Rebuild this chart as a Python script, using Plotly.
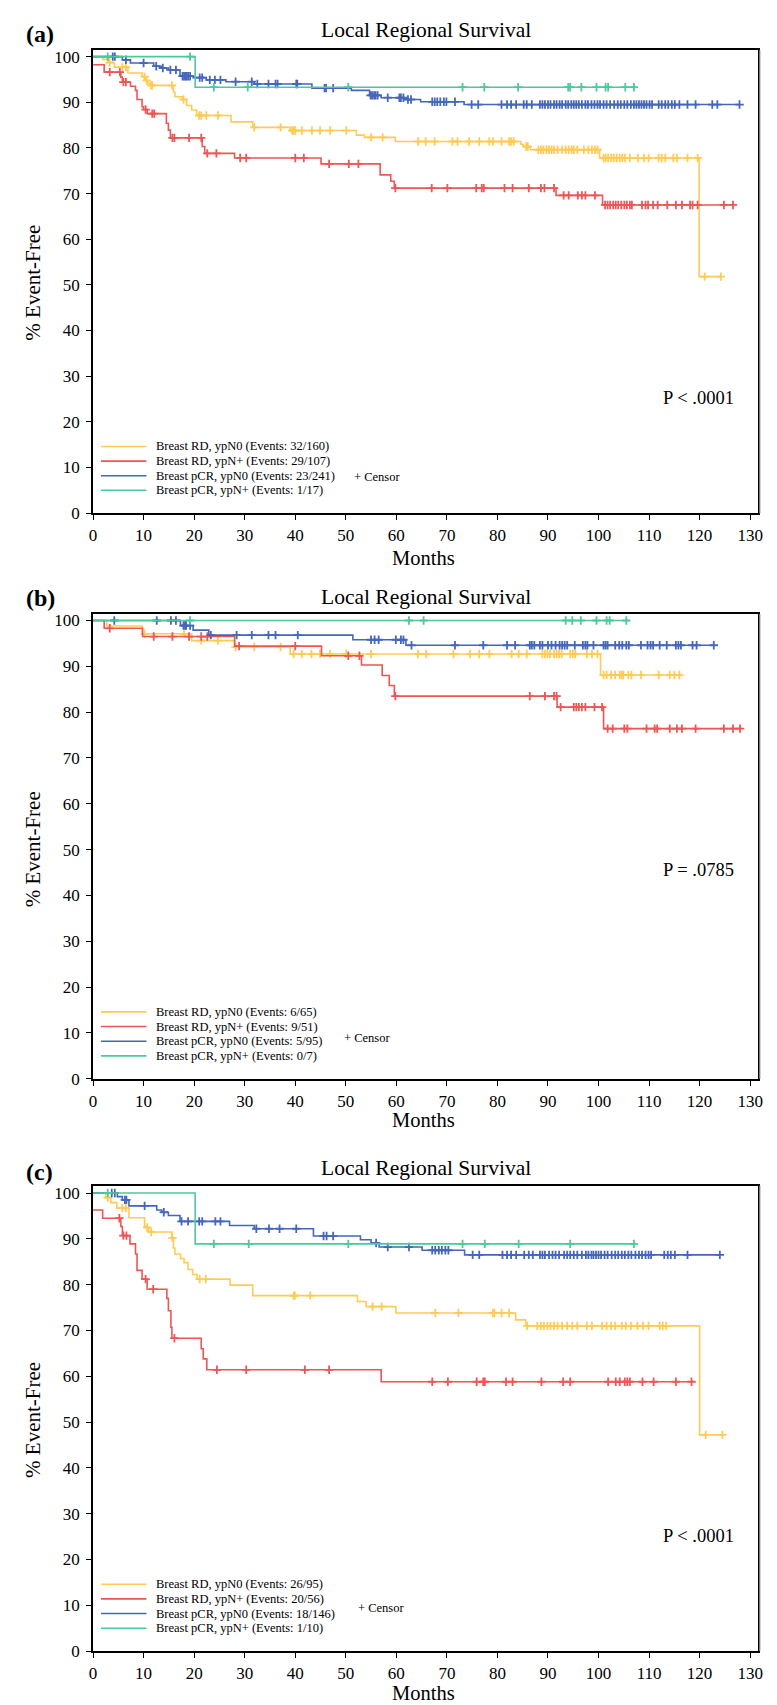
import plotly.graph_objects as go

FONT = "Liberation Serif"
YELLOW = "#FFCB55"
RED = "#EE5555"
BLUE = "#4466BB"
GREEN = "#4CC99A"
COLORS = [YELLOW, RED, BLUE, GREEN]

# ---------------- Panel (a) ----------------
a_rd_n0_start = 100.0
a_rd_n0_t = [1.9, 3.0, 4.2, 6.9, 9.7, 10.4, 10.8, 11.2, 15.9, 16.2, 17.7, 18.5, 19.5, 20.5, 27.3, 31.6, 39.0,
             52.1, 53.7, 59.8, 84.6, 85.1, 86.5, 100.2, 119.9]
a_rd_n0_s = [99.4, 98.7, 97.7, 96.4, 95.6, 94.8, 94.2, 93.7, 92.2, 91.2, 90.6, 89.3, 88.3, 87.1, 85.7, 84.5, 83.8,
             82.8, 82.3, 81.4, 80.8, 80.3, 79.6, 77.8, 51.8]
a_rd_n0_c = [3.3, 5.8, 6.5, 10.2, 10.6, 11.5, 11.7, 15.6, 17.9, 21.0, 21.4, 22.4, 24.7, 31.9, 37.1, 39.4, 39.7, 40.0,
             41.3, 43.3, 44.9, 46.9, 50.1, 55.0, 57.3, 64.3, 65.8, 67.6, 71.1, 72.1, 74.4, 76.4, 78.4, 79.1, 80.8,
             82.3, 82.7, 83.2, 85.7, 86.0, 88.1, 88.6, 89.1, 89.7, 90.2, 90.7, 91.2, 91.9, 92.8, 93.5, 94.1, 94.7,
             95.1, 95.8, 97.1, 98.0, 98.7, 99.3, 99.8, 101.0, 101.4, 101.9, 102.5, 103.0, 103.6, 104.2, 104.7, 105.2,
             106.2, 107.8, 109.0, 109.9, 111.9, 112.5, 113.2, 114.8, 115.5, 117.6, 119.6, 121.0, 124.2]
a_rd_n0_end = 124.4

a_rd_np_start = 98.2
a_rd_np_t = [2.2, 5.5, 5.8, 7.4, 8.4, 8.7, 9.7, 10.0, 10.7, 14.5, 14.9, 15.3, 21.6, 22.1, 28.0, 45.1, 56.8, 58.9,
             59.6, 91.6, 100.8]
a_rd_np_s = [96.6, 95.5, 94.4, 93.5, 92.6, 90.6, 89.0, 88.4, 87.5, 85.4, 83.9, 82.2, 80.3, 78.8, 77.8, 76.5, 74.1,
             72.7, 71.2, 69.6, 67.5]
a_rd_np_c = [3.3, 5.3, 6.0, 6.5, 10.4, 11.7, 12.1, 15.7, 16.1, 19.0, 21.4, 22.6, 24.4, 29.1, 30.3, 40.0, 41.7, 46.7,
             50.6, 52.5, 59.8, 67.0, 70.1, 75.8, 76.9, 77.3, 81.4, 83.0, 86.2, 88.6, 89.3, 91.2, 93.1, 94.1, 95.9,
             96.7, 97.4, 99.3, 101.3, 101.8, 102.3, 102.9, 103.4, 103.9, 104.5, 105.1, 105.6, 106.2, 106.6, 108.6,
             109.3, 109.8, 110.8, 111.7, 113.6, 115.3, 116.5, 118.1, 118.6, 119.6, 124.8, 126.6]
a_rd_np_end = 126.6

a_pcr_n0_start = 100.0
a_pcr_n0_t = [5.8, 7.4, 12.0, 13.6, 14.9, 17.2, 19.8, 22.4, 26.3, 31.9, 43.3, 51.1, 54.7, 57.0, 61.9, 64.8, 73.4]
a_pcr_n0_s = [99.3, 98.6, 97.9, 97.5, 97.1, 95.7, 95.4, 94.9, 94.5, 94.0, 93.1, 92.6, 91.5, 91.0, 90.6, 90.1, 89.5]
a_pcr_n0_c = [3.9, 4.3, 6.5, 10.0, 12.5, 13.8, 15.3, 16.4, 17.7, 18.0, 18.3, 18.5, 18.8, 19.2, 21.1, 21.6, 23.1,
              24.1, 25.2, 28.2, 31.4, 32.5, 34.7, 36.1, 36.5, 40.2, 40.4, 45.8, 46.1, 47.5, 54.9, 55.2, 55.6, 55.9,
              56.3, 58.3, 60.6, 60.9, 61.4, 62.3, 62.9, 67.1, 67.6, 68.1, 68.7, 69.4, 69.9, 71.6, 74.9, 76.2, 80.8,
              81.9, 82.7, 83.7, 85.2, 85.8, 86.8, 88.4, 88.9, 89.4, 90.0, 90.5, 91.2, 91.7, 92.3, 92.8, 93.5, 94.0,
              94.6, 95.1, 95.6, 96.1, 96.7, 97.4, 97.9, 98.6, 99.2, 99.8, 100.3, 101.0, 101.6, 102.3, 103.1, 103.8,
              104.4, 105.1, 105.7, 106.4, 107.0, 107.5, 108.0, 108.5, 109.0, 109.5, 110.1, 110.6, 111.9, 112.5,
              113.2, 113.8, 114.5, 115.1, 116.0, 117.6, 119.2, 122.5, 123.5, 127.9]
a_pcr_n0_end = 127.9

a_pcr_np_start = 100.0
a_pcr_np_t = [20.2]
a_pcr_np_s = [93.3]
a_pcr_np_c = [2.9, 19.2, 23.9, 30.6, 50.5, 73.1, 77.4, 84.1, 94.0, 94.4, 96.6, 99.6, 101.4, 101.9, 105.3, 107.0]
a_pcr_np_end = 107.0

a_labels = ["Breast RD, ypN0 (Events: 32/160)", "Breast RD, ypN+ (Events: 29/107)",
            "Breast pCR, ypN0 (Events: 23/241)", "Breast pCR, ypN+ (Events: 1/17)"]
a_pvalue = "P &lt; .0001"

# ---------------- Panel (b) ----------------
b_rd_n0_start = 100.0
b_rd_n0_t = [2.7, 9.7, 19.5, 28.0, 39.0, 100.4]
b_rd_n0_s = [98.8, 97.1, 95.6, 94.2, 92.7, 88.1]
b_rd_n0_c = [10.2, 18.0, 21.4, 24.7, 28.2, 31.9, 37.1, 39.7, 41.3, 43.2, 44.9, 46.9, 50.1, 55.0, 64.3, 65.9, 71.3,
             74.6, 76.4, 78.4, 82.8, 84.2, 85.8, 88.9, 89.4, 89.9, 90.4, 91.2, 91.7, 92.2, 92.7, 94.4, 94.9, 95.4,
             97.7, 98.7, 99.8, 101.0, 101.6, 102.5, 103.3, 104.2, 104.6, 104.9, 105.9, 106.5, 108.4, 111.9, 114.1,
             115.0, 116.0]
b_rd_n0_end = 116.2

b_rd_np_start = 100.0
b_rd_np_t = [2.2, 9.8, 28.0, 45.2, 53.1, 57.2, 58.6, 59.6, 91.8, 101.0]
b_rd_np_s = [98.3, 96.5, 94.4, 92.3, 90.3, 88.0, 85.8, 83.5, 81.1, 76.4]
b_rd_np_c = [3.3, 12.0, 15.7, 19.0, 21.4, 22.6, 28.9, 40.0, 50.5, 52.7, 59.8, 86.4, 89.4, 91.2, 91.7, 92.5, 95.1,
             95.6, 96.1, 96.7, 97.4, 99.2, 100.7, 101.8, 102.8, 105.1, 105.7, 109.5, 111.1, 111.6, 114.1, 115.5,
             116.5, 119.2, 124.8, 126.6, 128.0]
b_rd_np_end = 128.0

b_pcr_n0_start = 100.0
b_pcr_n0_t = [17.3, 19.8, 22.9, 51.4, 61.9]
b_pcr_n0_s = [98.9, 97.9, 96.8, 95.8, 94.6]
b_pcr_n0_c = [4.2, 12.6, 15.4, 16.4, 17.9, 18.2, 18.4, 19.2, 23.3, 28.4, 31.4, 34.7, 36.1, 40.5, 55.0, 55.7, 56.5,
              59.9, 60.9, 61.4, 63.0, 71.6, 77.2, 81.9, 83.5, 86.4, 86.8, 87.3, 88.4, 88.9, 90.0, 90.7, 91.5, 92.3,
              92.8, 93.3, 93.8, 95.3, 96.9, 97.4, 97.8, 99.0, 101.0, 101.4, 101.8, 103.3, 104.1, 104.7, 105.5, 106.0,
              108.4, 109.7, 110.3, 110.8, 112.1, 113.5, 115.3, 115.8, 116.3, 118.6, 119.4, 122.8]
b_pcr_n0_end = 122.8

b_pcr_np_start = 100.0
b_pcr_np_t = []
b_pcr_np_s = []
b_pcr_np_c = [19.2, 62.5, 65.4, 93.5, 94.8, 96.5, 99.6, 101.6, 102.2, 105.5]
b_pcr_np_end = 105.5

b_labels = ["Breast RD, ypN0 (Events: 6/65)", "Breast RD, ypN+ (Events: 9/51)",
            "Breast pCR, ypN0 (Events: 5/95)", "Breast pCR, ypN+ (Events: 0/7)"]
b_pvalue = "P = .0785"

# ---------------- Panel (c) ----------------
c_rd_n0_start = 100.0
c_rd_n0_t = [2.5, 3.5, 4.7, 7.1, 10.2, 11.0, 15.6, 15.9, 16.2, 17.3, 18.0, 18.8, 19.7, 20.6, 27.1, 31.6, 52.3, 54.0,
             59.9, 83.6, 85.6, 120.0]
c_rd_n0_s = [99.0, 97.9, 96.7, 94.6, 92.5, 91.5, 90.2, 88.0, 86.7, 85.7, 84.8, 83.3, 82.2, 81.2, 79.9, 77.6, 76.3,
             75.2, 73.8, 72.3, 71.0, 47.2]
c_rd_n0_c = [2.9, 5.8, 6.5, 10.7, 11.5, 15.7, 21.1, 22.3, 39.7, 39.9, 43.0, 55.3, 57.1, 67.7, 72.3, 79.1, 79.4, 80.8,
             82.3, 85.9, 87.9, 88.6, 89.2, 89.9, 90.5, 91.2, 91.9, 92.8, 93.8, 94.8, 95.8, 97.7, 98.7, 100.7, 101.6,
             102.5, 103.3, 104.6, 105.4, 106.4, 107.7, 108.8, 109.9, 112.1, 112.7, 113.4, 121.2, 124.5]
c_rd_n0_end = 124.5

c_rd_np_start = 96.3
c_rd_np_t = [1.9, 5.5, 5.8, 7.3, 8.4, 8.7, 9.7, 10.7, 14.6, 14.9, 15.4, 15.6, 21.4, 21.8, 22.5, 57.0]
c_rd_np_s = [94.5, 92.7, 90.7, 88.9, 86.7, 83.1, 81.2, 79.0, 77.0, 74.3, 70.7, 68.3, 66.0, 63.8, 61.4, 58.8]
c_rd_np_c = [5.2, 6.0, 6.6, 10.4, 11.9, 16.1, 24.5, 30.3, 41.9, 46.7, 67.1, 70.2, 75.9, 77.2, 77.5, 81.7, 83.0, 88.7,
             93.0, 94.4, 101.9, 103.4, 104.2, 105.2, 105.7, 106.2, 108.7, 110.9, 115.3, 118.4]
c_rd_np_end = 118.4

c_pcr_n0_start = 100.0
c_pcr_n0_t = [4.8, 5.8, 7.1, 12.6, 13.6, 14.9, 17.2, 27.0, 31.9, 43.6, 52.9, 55.0, 56.6, 65.1, 73.5]
c_pcr_n0_s = [99.2, 98.5, 97.2, 96.3, 95.8, 95.1, 93.8, 92.9, 92.2, 90.6, 89.8, 89.1, 88.2, 87.5, 86.5]
c_pcr_n0_c = [3.7, 4.3, 6.3, 6.6, 10.2, 14.0, 17.5, 18.8, 21.0, 21.6, 24.2, 25.2, 32.3, 34.8, 36.9, 40.2, 45.6, 46.2,
              47.5, 56.0, 58.3, 62.5, 67.1, 67.7, 68.4, 69.0, 69.7, 70.3, 75.1, 76.4, 81.0, 81.9, 82.7, 83.7, 85.3,
              86.2, 87.0, 88.4, 88.9, 89.4, 90.2, 90.9, 91.5, 92.2, 93.2, 93.8, 94.4, 95.1, 95.8, 96.7, 97.5, 98.0,
              98.6, 99.0, 99.5, 100.0, 100.5, 101.2, 101.8, 102.6, 103.3, 103.9, 104.6, 105.2, 105.9, 106.5, 107.3,
              108.0, 108.6, 109.3, 109.9, 110.4, 113.0, 113.7, 114.3, 115.1, 117.6, 124.0]
c_pcr_n0_end = 124.0

c_pcr_np_start = 100.0
c_pcr_np_t = [20.2]
c_pcr_np_s = [88.9]
c_pcr_np_c = [2.9, 23.9, 30.8, 50.5, 73.1, 77.5, 84.2, 94.4, 107.0]
c_pcr_np_end = 107.0

c_labels = ["Breast RD, ypN0 (Events: 26/95)", "Breast RD, ypN+ (Events: 20/56)",
            "Breast pCR, ypN0 (Events: 18/146)", "Breast pCR, ypN+ (Events: 1/10)"]
c_pvalue = "P &lt; .0001"

x_ticks = list(range(0, 131, 10))
y_ticks = list(range(0, 101, 10))

# ---------------- build ----------------
panels = [
    dict(groups=[(a_rd_n0_start, a_rd_n0_t, a_rd_n0_s, a_rd_n0_c, a_rd_n0_end),
                 (a_rd_np_start, a_rd_np_t, a_rd_np_s, a_rd_np_c, a_rd_np_end),
                 (a_pcr_n0_start, a_pcr_n0_t, a_pcr_n0_s, a_pcr_n0_c, a_pcr_n0_end),
                 (a_pcr_np_start, a_pcr_np_t, a_pcr_np_s, a_pcr_np_c, a_pcr_np_end)],
         labels=a_labels, pvalue=a_pvalue, tag="(a)",
         top=39.5, bottom=506.0, yr=101.4, title_y=19, tag_y=23, months_y=551,
         ylab_y=274, p_y=25.2, censor_x=51.2, censor_y=8.0),
    dict(groups=[(b_rd_n0_start, b_rd_n0_t, b_rd_n0_s, b_rd_n0_c, b_rd_n0_end),
                 (b_rd_np_start, b_rd_np_t, b_rd_np_s, b_rd_np_c, b_rd_np_end),
                 (b_pcr_n0_start, b_pcr_n0_t, b_pcr_n0_s, b_pcr_n0_c, b_pcr_n0_end),
                 (b_pcr_np_start, b_pcr_np_t, b_pcr_np_s, b_pcr_np_c, b_pcr_np_end)],
         labels=b_labels, pvalue=b_pvalue, tag="(b)",
         top=607.7, bottom=1076.0, yr=101.4, title_y=591, tag_y=592, months_y=1118,
         ylab_y=845, p_y=45.5, censor_x=49.3, censor_y=8.9),
    dict(groups=[(c_rd_n0_start, c_rd_n0_t, c_rd_n0_s, c_rd_n0_c, c_rd_n0_end),
                 (c_rd_np_start, c_rd_np_t, c_rd_np_s, c_rd_np_c, c_rd_np_end),
                 (c_pcr_n0_start, c_pcr_n0_t, c_pcr_n0_s, c_pcr_n0_c, c_pcr_n0_end),
                 (c_pcr_np_start, c_pcr_np_t, c_pcr_np_s, c_pcr_np_c, c_pcr_np_end)],
         labels=c_labels, pvalue=c_pvalue, tag="(c)",
         top=1183.7, bottom=1652.7, yr=101.6, title_y=1166, tag_y=1170, months_y=1695,
         ylab_y=1420, p_y=25.2, censor_x=52.0, censor_y=9.3),
]

W, H = 777, 1705
X0, X1 = 82.0, 755.0
XR = 131.6


def py(px):
    return 1 - px / H


def surv_at(t, start, times, survs):
    v = start
    for tt, ss in zip(times, survs):
        if tt <= t:
            v = ss
        else:
            break
    return v


fig = go.Figure()
annotations = []
shapes = []
legend_rows = [14.6, 11.4, 8.2, 5.0]

for i, p in enumerate(panels):
    k = "" if i == 0 else str(i + 1)
    xa, ya = "x" + k, "y" + k
    for (start, times, survs, cens, end), col in zip(p["groups"], COLORS):
        xs = [0] + list(times) + [end]
        ys = [start] + list(survs) + [survs[-1] if survs else start]
        fig.add_trace(go.Scatter(x=xs, y=ys, mode="lines", line=dict(color=col, width=1.6, shape="hv"),
                                 xaxis=xa, yaxis=ya, showlegend=False, hoverinfo="skip"))
        cy = [surv_at(c, start, times, survs) for c in cens]
        fig.add_trace(go.Scatter(x=cens, y=cy, mode="markers",
                                 marker=dict(symbol="cross-thin", size=6, color=col,
                                             line=dict(width=1.8, color=col)),
                                 xaxis=xa, yaxis=ya, showlegend=False, hoverinfo="skip"))
    axis_common = dict(showline=True, linecolor="black", linewidth=1.6, mirror=True, ticks="outside",
                       ticklen=5, tickwidth=1.4, tickcolor="black", showgrid=False, zeroline=False,
                       tickfont=dict(family=FONT, size=17, color="black"))
    fig.layout["xaxis" + k] = dict(domain=[X0 / W, X1 / W], range=[0, XR], tickvals=x_ticks,
                                   anchor=ya, ticklabelstandoff=1, **axis_common)
    fig.layout["yaxis" + k] = dict(domain=[py(p["bottom"]), py(p["top"])], range=[0, p["yr"]],
                                   tickvals=y_ticks, anchor=xa, ticklabelstandoff=3, **axis_common)
    # subtle shadow on the right frame edge, as in the original
    shapes.append(dict(type="line", xref="paper", yref="paper", x0=(X1 + 1.6) / W, x1=(X1 + 1.6) / W,
                       y0=py(p["bottom"]), y1=py(p["top"]), line=dict(color="#9a9a9a", width=1.2)))
    # legend (drawn inside plot)
    for row, lab, col in zip(legend_rows, p["labels"], COLORS):
        shapes.append(dict(type="line", xref=xa, yref=ya, x0=1.56, x1=10.56, y0=row, y1=row,
                           line=dict(color=col, width=1.6)))
        annotations.append(dict(xref=xa, yref=ya, x=12.1, y=row, text=lab, showarrow=False,
                                xanchor="left", yanchor="middle",
                                font=dict(family=FONT, size=12.5, color="black")))
    annotations.append(dict(xref=xa, yref=ya, x=p["censor_x"], y=p["censor_y"], text="+ Censor",
                            showarrow=False, xanchor="left", yanchor="middle",
                            font=dict(family=FONT, size=12.5, color="black")))
    annotations.append(dict(xref=xa, yref=ya, x=119.8, y=p["p_y"], text=p["pvalue"], showarrow=False,
                            xanchor="center", yanchor="middle",
                            font=dict(family=FONT, size=18.5, color="black")))
    # titles
    annotations.append(dict(xref="paper", yref="paper", x=(X0 + X1) / 2 / W, y=py(p["title_y"]),
                            text="Local Regional Survival", showarrow=False, xanchor="center",
                            yanchor="middle", font=dict(family=FONT, size=21.5, color="black")))
    annotations.append(dict(xref="paper", yref="paper", x=12 / W, y=py(p["tag_y"]), text="<b>" + p["tag"] + "</b>",
                            showarrow=False, xanchor="left", yanchor="middle",
                            font=dict(family=FONT, size=24, color="black")))
    annotations.append(dict(xref="paper", yref="paper", x=416 / W, y=py(p["months_y"]), text="Months",
                            showarrow=False, xanchor="center", yanchor="middle",
                            font=dict(family=FONT, size=20.5, color="black")))
    annotations.append(dict(xref="paper", yref="paper", x=21 / W, y=py(p["ylab_y"]), text="% Event-Free",
                            showarrow=False, xanchor="center", yanchor="middle", textangle=-90,
                            font=dict(family=FONT, size=21, color="black")))

fig.update_layout(width=W, height=H, margin=dict(l=0, r=0, t=0, b=0), plot_bgcolor="white",
                  paper_bgcolor="white", annotations=annotations, shapes=shapes, showlegend=False)
fig.write_html("out.html")
